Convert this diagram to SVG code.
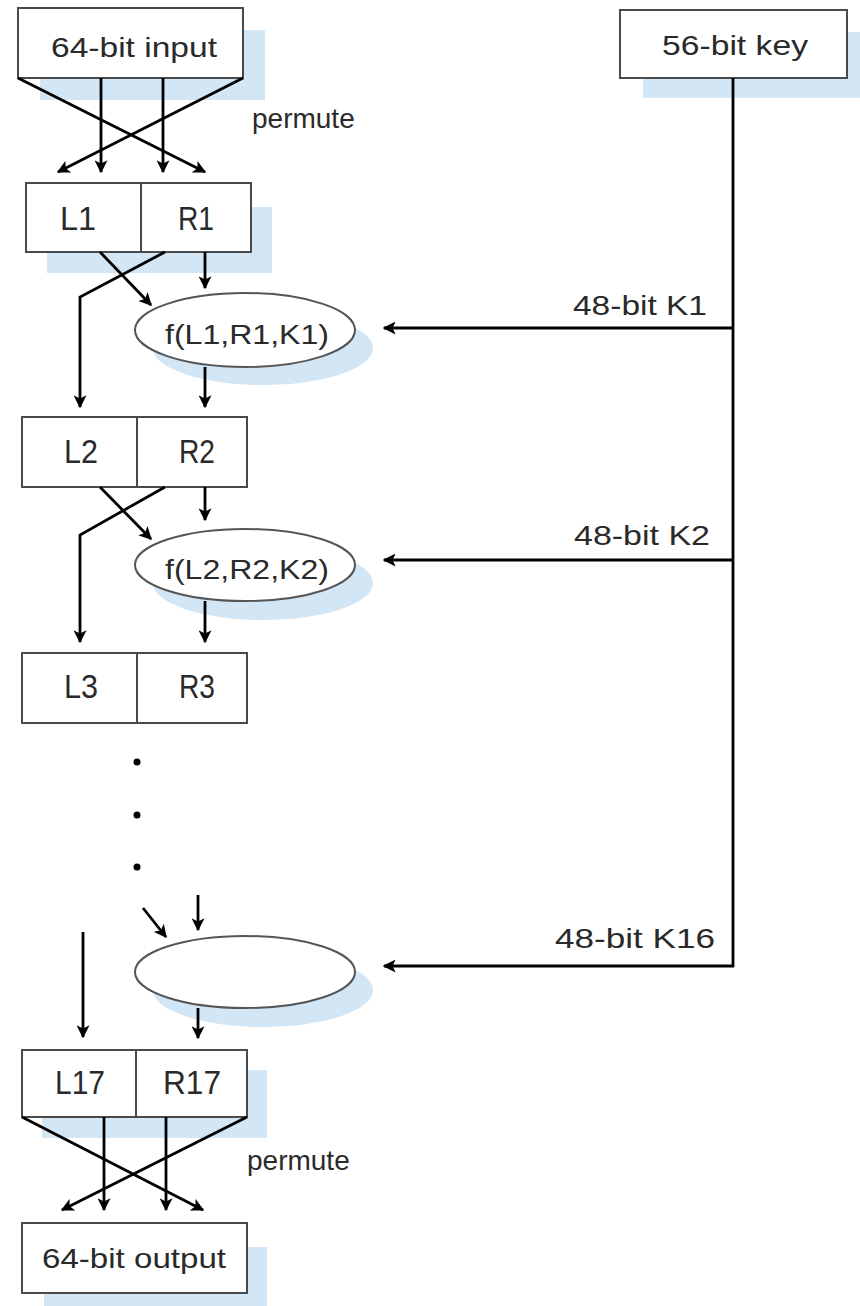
<svg xmlns="http://www.w3.org/2000/svg" width="860" height="1306" viewBox="0 0 860 1306">
<style>
.shadow{fill:#d3e6f6;stroke:none}
.box{fill:#fff;stroke:#4a4a4a;stroke-width:2}
.ell{fill:#fff;stroke:#555;stroke-width:2}
.ln{fill:none;stroke:#000;stroke-width:2.8}
.t{font-family:"Liberation Sans",Arial,sans-serif;font-size:28px;fill:#2a2a2a}
.lr{font-family:"Liberation Sans",Arial,sans-serif;font-size:34px;fill:#2a2a2a;text-anchor:middle}
.c{text-anchor:middle}
.e{text-anchor:end}
</style>
<defs>
<marker id="ah" viewBox="0 0 10 10" refX="9" refY="5" markerWidth="13" markerHeight="13" markerUnits="userSpaceOnUse" orient="auto">
<path d="M0,0 L10,5 L0,10 L2.5,5 z" fill="#000"/>
</marker>
</defs>
<rect width="860" height="1306" fill="#fff"/>

<g id="input">
<rect class="shadow" x="40" y="30" width="225" height="70"/>
<rect class="box" x="18" y="8" width="225" height="70"/>
<text class="t c" x="134" y="57" textLength="166" lengthAdjust="spacingAndGlyphs">64-bit input</text>
</g>

<g id="key">
<rect class="shadow" x="643" y="32" width="230" height="66"/>
<rect class="box" x="620" y="10" width="227" height="68"/>
<text class="t c" x="735" y="55" textLength="146" lengthAdjust="spacingAndGlyphs">56-bit key</text>
</g>

<g id="permute-top-label">
<text class="t" x="252" y="128" font-size="25">permute</text>
</g>

<g id="LR1">
<rect class="shadow" x="47" y="207" width="225" height="66"/>
<rect class="box" x="26" y="183" width="225" height="69"/>
<line x1="141" y1="183" x2="141" y2="252" stroke="#4a4a4a" stroke-width="2"/>
<text class="lr" x="78" y="230" textLength="36" lengthAdjust="spacingAndGlyphs">L1</text>
<text class="lr" x="196" y="230" textLength="36" lengthAdjust="spacingAndGlyphs">R1</text>
</g>

<g id="f1">
<ellipse class="shadow" cx="263" cy="348" rx="110" ry="37"/>
<ellipse class="ell" cx="245" cy="330" rx="110" ry="37"/>
<text class="t c" x="247" y="344" font-size="30" textLength="164" lengthAdjust="spacingAndGlyphs">f(L1,R1,K1)</text>
</g>

<g id="LR2">
<rect class="box" x="22" y="417" width="225" height="70"/>
<line x1="137" y1="417" x2="137" y2="487" stroke="#4a4a4a" stroke-width="2"/>
<text class="lr" x="81" y="463" textLength="34" lengthAdjust="spacingAndGlyphs">L2</text>
<text class="lr" x="197" y="463" textLength="36" lengthAdjust="spacingAndGlyphs">R2</text>
</g>

<g id="f2">
<ellipse class="shadow" cx="263" cy="583" rx="110" ry="37"/>
<ellipse class="ell" cx="245" cy="565" rx="110" ry="36"/>
<text class="t c" x="247" y="579" font-size="30" textLength="164" lengthAdjust="spacingAndGlyphs">f(L2,R2,K2)</text>
</g>

<g id="LR3">
<rect class="box" x="22" y="653" width="225" height="70"/>
<line x1="137" y1="653" x2="137" y2="723" stroke="#4a4a4a" stroke-width="2"/>
<text class="lr" x="81" y="698" textLength="34" lengthAdjust="spacingAndGlyphs">L3</text>
<text class="lr" x="197" y="698" textLength="36" lengthAdjust="spacingAndGlyphs">R3</text>
</g>

<g id="dots">
<circle cx="137" cy="762" r="3.5" fill="#000"/>
<circle cx="137" cy="815" r="3.5" fill="#000"/>
<circle cx="137" cy="867" r="3.5" fill="#000"/>
</g>

<g id="f16">
<ellipse class="shadow" cx="263" cy="990" rx="110" ry="37"/>
<ellipse class="ell" cx="245" cy="972" rx="110" ry="36"/>
</g>

<g id="LR17">
<rect class="shadow" x="42" y="1070" width="225" height="68"/>
<rect class="box" x="22" y="1050" width="225" height="67"/>
<line x1="136" y1="1050" x2="136" y2="1117" stroke="#4a4a4a" stroke-width="2"/>
<text class="lr" x="80" y="1094" textLength="50" lengthAdjust="spacingAndGlyphs">L17</text>
<text class="lr" x="192" y="1094" textLength="58" lengthAdjust="spacingAndGlyphs">R17</text>
</g>

<g id="permute-bottom-label">
<text class="t" x="247" y="1170" font-size="25">permute</text>
</g>

<g id="output">
<rect class="shadow" x="44" y="1247" width="223" height="70"/>
<rect class="box" x="22" y="1223" width="225" height="70"/>
<text class="t c" x="134" y="1268" textLength="184" lengthAdjust="spacingAndGlyphs">64-bit output</text>
</g>

<g id="key-labels">
<text class="t e" x="707" y="315" textLength="134" lengthAdjust="spacingAndGlyphs">48-bit K1</text>
<text class="t e" x="710" y="545" textLength="136" lengthAdjust="spacingAndGlyphs">48-bit K2</text>
<text class="t e" x="715" y="948" textLength="160" lengthAdjust="spacingAndGlyphs">48-bit K16</text>
</g>

<g id="connectors">
<line class="ln" x1="18" y1="78" x2="205" y2="172" marker-end="url(#ah)"/>
<line class="ln" x1="243" y1="78" x2="58" y2="172" marker-end="url(#ah)"/>
<line class="ln" x1="101" y1="78" x2="101" y2="172" marker-end="url(#ah)"/>
<line class="ln" x1="163" y1="78" x2="163" y2="172" marker-end="url(#ah)"/>

<line class="ln" x1="100" y1="252" x2="151" y2="305" marker-end="url(#ah)"/>
<polyline class="ln" points="165,252 80,297 80,407" marker-end="url(#ah)"/>
<line class="ln" x1="205" y1="252" x2="205" y2="288" marker-end="url(#ah)"/>
<line class="ln" x1="205" y1="367" x2="205" y2="407" marker-end="url(#ah)"/>

<line class="ln" x1="100" y1="487" x2="151" y2="539" marker-end="url(#ah)"/>
<polyline class="ln" points="165,487 80,535 80,642" marker-end="url(#ah)"/>
<line class="ln" x1="205" y1="487" x2="205" y2="520" marker-end="url(#ah)"/>
<line class="ln" x1="205" y1="601" x2="205" y2="642" marker-end="url(#ah)"/>

<line class="ln" x1="143" y1="908" x2="166" y2="937" marker-end="url(#ah)"/>
<line class="ln" x1="198" y1="895" x2="198" y2="930" marker-end="url(#ah)"/>
<line class="ln" x1="83" y1="932" x2="83" y2="1037" marker-end="url(#ah)"/>
<line class="ln" x1="198" y1="1008" x2="198" y2="1038" marker-end="url(#ah)"/>

<line class="ln" x1="22" y1="1117" x2="203" y2="1210" marker-end="url(#ah)"/>
<line class="ln" x1="247" y1="1117" x2="62" y2="1210" marker-end="url(#ah)"/>
<line class="ln" x1="104" y1="1117" x2="104" y2="1210" marker-end="url(#ah)"/>
<line class="ln" x1="166" y1="1117" x2="166" y2="1210" marker-end="url(#ah)"/>

<line class="ln" x1="733" y1="78" x2="733" y2="967"/>
<line class="ln" x1="733" y1="328" x2="384" y2="328" marker-end="url(#ah)"/>
<line class="ln" x1="733" y1="560" x2="384" y2="560" marker-end="url(#ah)"/>
<line class="ln" x1="734" y1="966" x2="384" y2="966" marker-end="url(#ah)"/>
</g>
</svg>
